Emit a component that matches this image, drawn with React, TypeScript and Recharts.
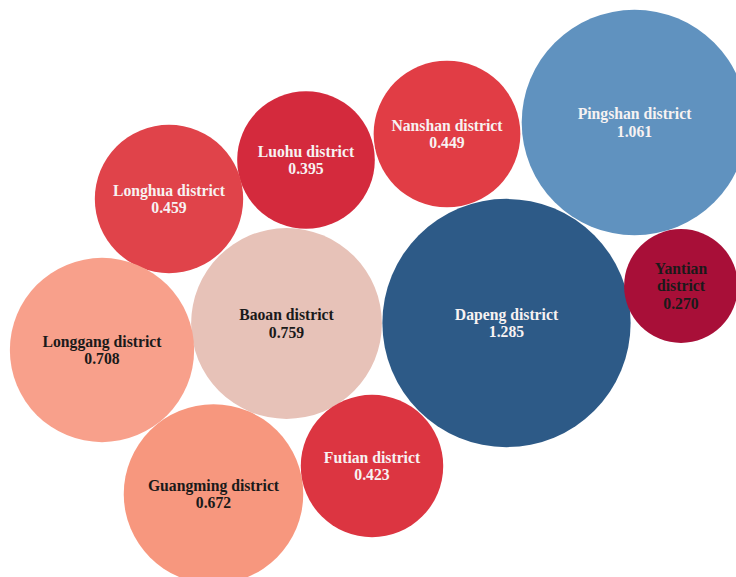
import { ScatterChart, Scatter, XAxis, YAxis, ZAxis } from "recharts";

// district names and index values
const districts = [
  "Pingshan district",
  "Dapeng district",
  "Yantian district",
  "Nanshan district",
  "Luohu district",
  "Longhua district",
  "Baoan district",
  "Longgang district",
  "Guangming district",
  "Futian district",
];
const values = [1.061, 1.285, 0.27, 0.449, 0.395, 0.459, 0.759, 0.708, 0.672, 0.423];

// packed-bubble layout coordinates (layout units)
const packX = [634.5, 506.5, 681, 447, 306, 169, 286.5, 102, 213.5, 372];
const packY = [122.5, 323, 286, 134, 160, 199, 323.5, 350, 494, 466];

const fills: Record<string, string> = {
  "Pingshan district": "#6092bf",
  "Dapeng district": "#2d5a87",
  "Yantian district": "#a80f38",
  "Nanshan district": "#e13d45",
  "Luohu district": "#d42a3d",
  "Longhua district": "#e0434a",
  "Baoan district": "#e7c2b8",
  "Longgang district": "#f8a08b",
  "Guangming district": "#f7977e",
  "Futian district": "#dc3541",
};
const darkText = new Set(["Yantian district", "Baoan district", "Longgang district", "Guangming district"]);

const data = districts.map((name, i) => ({ name, value: values[i], x: packX[i], y: packY[i] }));

const W = 736;
const H = 577;
const K = 109.5; // px radius per sqrt(value)
const Z_MAX = 1.5;

function Bubble(props: any) {
  const { cx, cy, width, payload } = props;
  const r = width / 2;
  const lines: string[] = r < 60 ? [...payload.name.split(" "), payload.value.toFixed(3)] : [payload.name, payload.value.toFixed(3)];
  const lh = 17.5;
  const top = cy - ((lines.length - 1) * lh) / 2;
  return (
    <g>
      <circle cx={cx} cy={cy} r={r} fill={fills[payload.name]} />
      <text
        textAnchor="middle"
        fontFamily="'Liberation Serif', 'Times New Roman', serif"
        fontWeight="bold"
        fontSize={15.7}
        fill={darkText.has(payload.name) ? "#1a1a1a" : "#f7f2f2"}
      >
        {lines.map((l, i) => (
          <tspan key={i} x={cx} y={top + i * lh} dy="0.35em">
            {l}
          </tspan>
        ))}
      </text>
    </g>
  );
}

export default function App() {
  return (
    <div style={{ position: "absolute", left: 0, top: 0, width: W, height: H, background: "#fff" }}>
      <ScatterChart width={W} height={H} margin={{ top: 0, right: 0, bottom: 0, left: 0 }}>
        <XAxis type="number" dataKey="x" domain={[0, W]} hide allowDataOverflow />
        <YAxis type="number" dataKey="y" domain={[0, H]} reversed hide allowDataOverflow />
        <ZAxis type="number" dataKey="value" domain={[0, Z_MAX]} range={[0, Math.PI * K * K * Z_MAX]} />
        <Scatter data={data} shape={Bubble} isAnimationActive={false} />
      </ScatterChart>
    </div>
  );
}
